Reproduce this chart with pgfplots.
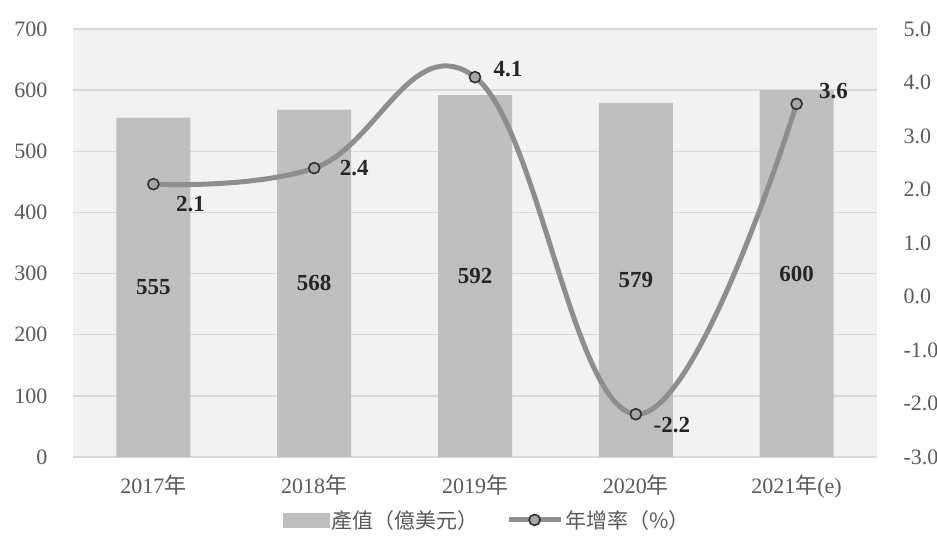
\documentclass[border=0pt]{standalone}
\usepackage{pgfplots}
\pgfplotsset{compat=1.18}
\usepackage{fontspec}
\setmainfont{Liberation Serif}
\newfontfamily\cjk{Noto Sans CJK TC}

\definecolor{bgc}{HTML}{F2F2F2}
\definecolor{gridc}{HTML}{D9D9D9}
\definecolor{barc}{HTML}{BFBFBF}
\definecolor{linec}{HTML}{8E8E8E}
\definecolor{markc}{HTML}{A6A6A6}
\definecolor{markd}{HTML}{303030}
\definecolor{tickc}{HTML}{595959}
\definecolor{labc}{HTML}{262626}

\pgfplotsset{
  common/.style={
    at={(73pt,93pt)}, anchor=south west,
    scale only axis, width=804pt, height=428pt,
    xmin=-0.5, xmax=4.5,
    tick style={draw=none},
    ticklabel style={font=\fontsize{22}{26}\selectfont, text=tickc},
    /pgf/number format/assume math mode=true,
  },
  linelegend/.style={legend image code/.code={\draw[##1, mark repeat=2, mark phase=2]
    plot coordinates {(0pt,0pt)(26pt,0pt)(52pt,0pt)};}},
}

\begin{document}
\begin{tikzpicture}
\path[use as bounding box] (0,0) rectangle (937pt,550pt);

% bars, left axis
\begin{axis}[
  common,
  ymin=0, ymax=700,
  ytick={0,100,...,700},
  xtick={0,...,4},
  xticklabels={2017{\cjk 年},2018{\cjk 年},2019{\cjk 年},2020{\cjk 年},2021{\cjk 年}(e)},
  ymajorgrids, grid style={gridc, line width=1.3pt},
  axis line style={draw=none},
  axis background/.style={fill=bgc},
  yticklabel style={xshift=-22pt},
  xticklabel style={yshift=-14pt},
]
\addplot[ybar, bar width=74pt, fill=barc, draw=none,
  nodes near coords,
  visualization depends on={rawy \as \ry},
  every node near coord/.append style={anchor=center, yshift=-0.30571*\ry,
    font=\fontsize{23}{27}\selectfont\bfseries, text=labc}]
  coordinates {(0,555)(1,568)(2,592)(3,579)(4,600)};
\end{axis}

% growth rate, right axis
\begin{axis}[
  common,
  ymin=-3, ymax=5,
  ytick={-3,-2,...,5},
  axis y line*=right,
  axis x line=none,
  axis line style={draw=none},
  yticklabel style={/pgf/number format/fixed, /pgf/number format/fixed zerofill,
    /pgf/number format/precision=1, xshift=23pt, anchor=west},
  legend style={at={(0.515,-0.147)}, anchor=center, legend columns=2,
    draw=none, fill=none, font=\fontsize{21}{25}\selectfont\cjk, text=tickc,
    /tikz/every even column/.append style={column sep=26pt}},
]
\addlegendimage{legend image code/.code={\fill[barc] (0pt,-7pt) rectangle (46pt,7pt);}}
\addlegendentry{產值（億美元）}
\addplot[smooth, tension=0.7, line width=5pt, color=linec,
  mark=*, mark size=5.5pt,
  mark options={solid, fill=markc, draw=markd, line width=1.6pt},
  nodes near coords, point meta=explicit symbolic,
  visualization depends on={value \thisrow{dx} \as \dx},
  visualization depends on={value \thisrow{dy} \as \dy},
  every node near coord/.append style={anchor=center, xshift=\dx pt, yshift=\dy pt,
    font=\fontsize{23}{27}\selectfont\bfseries, text=labc},
  linelegend]
  table[meta=lab] {
x y lab dx dy
0 2.1 2.1 37 -20
1 2.4 2.4 40 0
2 4.1 4.1 33 8
3 -2.2 -2.2 36 -11
4 3.6 3.6 37 13
};
\addlegendentry{年增率（\%）}
\end{axis}
\end{tikzpicture}
\end{document}
